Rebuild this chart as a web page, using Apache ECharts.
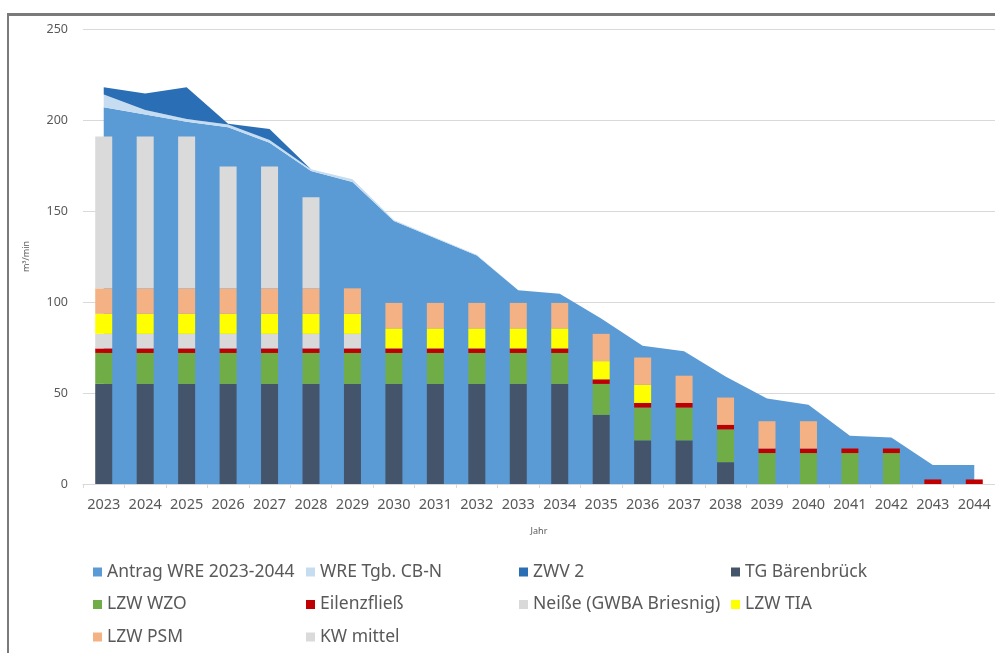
<!DOCTYPE html>
<html>
<head>
<meta charset="utf-8">
<script src="https://cdn.jsdelivr.net/npm/echarts@6/dist/echarts.min.js"></script>
<style>
  html, body { margin: 0; padding: 0; background: #fff; }
  #chart { width: 995px; height: 653px; }
</style>
</head>
<body>
<div id="chart"></div>
<script>
const years = ['2023', '2024', '2025', '2026', '2027', '2028', '2029', '2030', '2031', '2032', '2033',
  '2034', '2035', '2036', '2037', '2038', '2039', '2040', '2041', '2042', '2043', '2044'];

// areas (stacked)
const antragWre = [207, 203, 199, 196, 187.5, 172, 166, 144.5, 135, 125.5, 106.5, 104.5, 91, 76, 73, 59, 47, 43.5, 26.5, 25.5, 10.5, 10.5];
const wreTgb = [7, 2.5, 1.5, 1.5, 1.5, 1, 1.5, 0.5, 0.5, 0.5, 0, 0, 0, 0, 0, 0, 0, 0, 0, 0, 0, 0];
const zwv2 = [4, 9, 17.5, 0.5, 6, 0, 0, 0, 0, 0, 0, 0, 0, 0, 0, 0, 0, 0, 0, 0, 0, 0];

// bars (stacked)
const tgBaerenbrueck = [55, 55, 55, 55, 55, 55, 55, 55, 55, 55, 55, 55, 38, 24, 24, 12, 0, 0, 0, 0, 0, 0];
const lzwWzo = [17, 17, 17, 17, 17, 17, 17, 17, 17, 17, 17, 17, 17, 18, 18, 18, 17, 17, 17, 17, 0, 0];
const eilenzfliess = [2.5, 2.5, 2.5, 2.5, 2.5, 2.5, 2.5, 2.5, 2.5, 2.5, 2.5, 2.5, 2.5, 2.5, 2.5, 2.5, 2.5, 2.5, 2.5, 2.5, 2.5, 2.5];
const neisse = [8, 8, 8, 8, 8, 8, 8, 0, 0, 0, 0, 0, 0, 0, 0, 0, 0, 0, 0, 0, 0, 0];
const lzwTia = [11, 11, 11, 11, 11, 11, 11, 11, 11, 11, 11, 11, 10, 10, 0, 0, 0, 0, 0, 0, 0, 0];
const lzwPsm = [14, 14, 14, 14, 14, 14, 14, 14, 14, 14, 14, 14, 15, 15, 15, 15, 15, 15, 0, 0, 0, 0];
const kwMittel = [83.5, 83.5, 83.5, 67, 67, 50, 0, 0, 0, 0, 0, 0, 0, 0, 0, 0, 0, 0, 0, 0, 0, 0];

const yTicks = [0, 50, 100, 150, 200, 250];

const textColor = '#595959';
const fontFamily = 'Noto Sans';

function areaSeries (name, data, color) {
  return {
    name: name,
    type: 'line',
    stack: 'area',
    z: 1,
    data: data,
    showSymbol: false,
    symbol: 'none',
    lineStyle: { width: 0 },
    areaStyle: { color: color, opacity: 1 },
    itemStyle: { color: color },
    silent: true
  };
}

function barSeries (name, data, color) {
  return {
    name: name,
    type: 'bar',
    stack: 'bars',
    z: 3,
    data: data,
    barWidth: 17,
    itemStyle: { color: color },
    silent: true
  };
}

// one legend entry per slot, placed on the 4-column grid of the original
function legendItem (name, col, row) {
  const lefts = [93, 306, 519, 731];
  return {
    left: lefts[col],
    top: 563 + row * 32.5,
    padding: 0,
    data: [name],
    icon: 'rect',
    itemWidth: 9,
    itemHeight: 9,
    textStyle: { color: textColor, fontSize: 17.5, fontFamily: fontFamily, lineHeight: 16 },
    selectedMode: false
  };
}

const option = {
  animation: false,
  backgroundColor: '#fff',
  grid: { left: 83, top: 29, width: 918, height: 455 },
  legend: [
    legendItem('Antrag WRE 2023-2044', 0, 0),
    legendItem('WRE Tgb. CB-N', 1, 0),
    legendItem('ZWV 2', 2, 0),
    legendItem('TG Bärenbrück', 3, 0),
    legendItem('LZW WZO', 0, 1),
    legendItem('Eilenzfließ', 1, 1),
    legendItem('Neiße (GWBA Briesnig)', 2, 1),
    legendItem('LZW TIA', 3, 1),
    legendItem('LZW PSM', 0, 2),
    legendItem('KW mittel', 1, 2)
  ],
  xAxis: {
    type: 'category',
    data: years,
    boundaryGap: true,
    name: 'Jahr',
    nameLocation: 'middle',
    nameGap: 43,
    nameTextStyle: { color: textColor, fontSize: 9, fontFamily: fontFamily },
    axisLine: { lineStyle: { color: '#d9d9d9' } },
    axisTick: { show: true, length: 4, lineStyle: { color: '#d9d9d9' } },
    axisLabel: { color: textColor, fontSize: 14.5, fontFamily: fontFamily, margin: 13, interval: 0 }
  },
  yAxis: {
    type: 'value',
    min: yTicks[0],
    max: yTicks[yTicks.length - 1],
    interval: 50,
    name: 'm³/min',
    nameLocation: 'middle',
    nameGap: 52,
    nameTextStyle: { color: textColor, fontSize: 9, fontFamily: fontFamily },
    axisLine: { show: false },
    axisTick: { show: false },
    axisLabel: { color: textColor, fontSize: 12.5, fontFamily: fontFamily, margin: 15 },
    splitLine: { lineStyle: { color: '#d9d9d9' } }
  },
  series: [
    areaSeries('Antrag WRE 2023-2044', antragWre, '#5b9bd5'),
    areaSeries('WRE Tgb. CB-N', wreTgb, '#c5dcf1'),
    areaSeries('ZWV 2', zwv2, '#2a6fb5'),
    barSeries('TG Bärenbrück', tgBaerenbrueck, '#44546a'),
    barSeries('LZW WZO', lzwWzo, '#70ad47'),
    barSeries('Eilenzfließ', eilenzfliess, '#c00000'),
    barSeries('Neiße (GWBA Briesnig)', neisse, '#d9d9d9'),
    barSeries('LZW TIA', lzwTia, '#ffff00'),
    barSeries('LZW PSM', lzwPsm, '#f4b183'),
    barSeries('KW mittel', kwMittel, '#dadada')
  ],
  graphic: [
    { type: 'rect', shape: { x: 8, y: 13, width: 987, height: 3 }, style: { fill: '#7a7a7a' } },
    { type: 'rect', shape: { x: 7, y: 13, width: 2, height: 640 }, style: { fill: '#7a7a7a' } }
  ]
};

const chart = echarts.init(document.getElementById('chart'), null, { renderer: 'canvas' });
chart.setOption(option);
</script>
</body>
</html>
